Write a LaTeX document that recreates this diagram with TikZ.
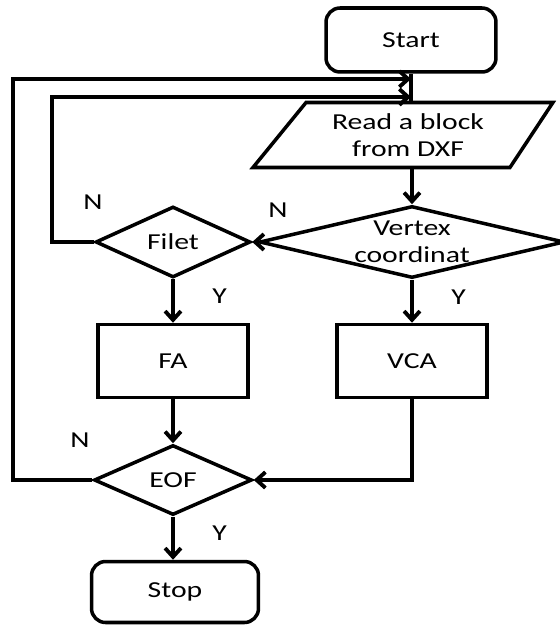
\documentclass[tikz,border=0pt]{standalone}
\usepackage{fontspec}
\setmainfont{Carlito}[FakeStretch=1.3]
\usetikzlibrary{shapes.geometric,arrows.meta}

\tikzset{
  box/.style={draw, line width=2pt, minimum width=3cm, minimum height=1.46cm},
  term/.style={box, rounded corners=8pt},
  dia/.style={diamond, draw, line width=2pt, inner sep=0pt, aspect=4},
  io/.style={trapezium, draw, line width=2pt, trapezium stretches body,
    trapezium left angle=46, trapezium right angle=128, align=center,
    minimum width=6cm, minimum height=1.3cm},
  arr/.style={line width=2.2pt, -{Straight Barb[length=5pt,width=9pt]}}
}

\begin{document}
\begin{tikzpicture}[x=0.02cm, y=-0.02cm, every node/.style={font=\fontsize{13}{15.5}\selectfont}]
  \useasboundingbox (0,0) rectangle (560,625);

  \node[term, minimum width=3.4cm, minimum height=1.28cm] (ST) at (411,40) {Start};
  \node[io] (RD) at (408,135) {Read a block\\from DXF};
  \node[dia, minimum width=6.1cm, minimum height=1.44cm, align=center] (VX) at (412,242) {Vertex\\coordinat};
  \node[dia, minimum width=3.1cm, minimum height=1.42cm] (FT) at (173,242) {Filet};
  \node[box] (FA) at (173,361) {FA};
  \node[box] (VC) at (412,361) {VCA};
  \node[dia, minimum width=3.16cm, minimum height=1.4cm] (EF) at (173,480) {EOF};
  \node[term, minimum width=3.34cm, minimum height=1.22cm] (SP) at (175,592) {Stop};

  \coordinate (J1) at (411,79);
  \coordinate (J2) at (411,97);

  \draw[line width=2.2pt] (ST.south) -- (ST.south |- RD.north);
  \draw[arr] (VX.north |- RD.south) -- (VX.north);
  \draw[arr] (VX.west) -- (FT.east);
  \draw[arr] (FT.south) -- node[pos=0.4, right=18pt] (y1) {Y} (FA.north);
  \draw[arr] (VX.south) -- node[pos=0.4, right=18pt] (y2) {Y} (VC.north);
  \draw[arr] (FA.south) -- (EF.north);
  \draw[arr] (VC.south) |- (EF.east);
  \draw[arr] (EF.south) -- node[pos=0.38, right=18pt] (y3) {Y} (EF.south |- SP.north);

  % loops back to the read step
  \draw[arr] (FT.west) -- (52,242) |- (J2);
  \draw[arr] (EF.west) -- (13,480) |- (J1);

  \node (n1) at (93,202) {N};
  \node (n2) at (278,210) {N};
  \node (n3) at (80,440) {N};
\end{tikzpicture}
\end{document}
